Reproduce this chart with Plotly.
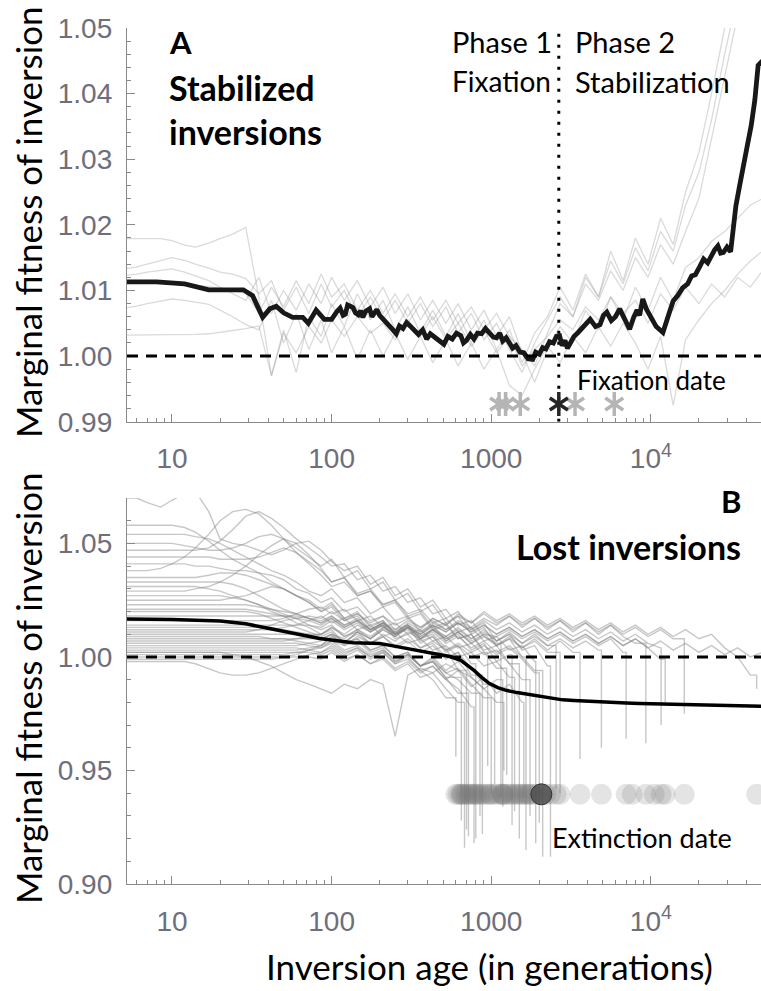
import numpy as np
import plotly.graph_objects as go

# ---------------------------------------------------------------- data
# Generation ages at which the individual simulation runs are sampled
run_ages = [5, 6, 7, 8.5, 10, 12, 14, 17, 20, 24, 29, 35, 42, 50, 60, 72, 86,
            100, 120, 145, 175, 210, 250, 300, 360, 430, 520, 620, 750, 900,
            1080, 1300, 1560, 1870, 2250, 2700, 3250, 3900, 4700, 5600, 6700,
            8000, 9600, 11500, 13800, 16500, 20000, 24000, 29000, 35000, 42000, 50000]

# Panel A - stabilized inversions, fitness excess in per mille (0 = neutral)
stabilized_runs = [
    [17.9, 17.9, 17.9, 17.9, 17.6, 16.9, 16.6, 17.2, 17.9, 18.6, 19.6, 9.0, -3.0, 4.0, -2.5, 6.0, 3.0, 8.0, 4.5, 9.5,
     5.5, 8.5, 4.0, 7.5, 3.5, 7.0, 3.0, 6.5, 2.0, 5.5, 1.0, 4.0, -1.0, 3.5, 6.0, 10.5, 7.0, 12.5, 9.0, 14.5,
     11.0, 16.5, 13.0, 19.0, 16.0, 23.0, 28.0, 36.0, 46.0, 55.0, 60.0, 62.0],
    [13.3, 13.6, 14.0, 14.5, 15.0, 14.6, 14.0, 13.4, 12.8, 12.5, 11.8, 9.5, 11.5, 7.0, 10.5, 6.5, 11.0, 7.5, 10.0, 6.0,
     9.0, 5.5, 8.5, 5.0, 8.0, 4.5, 7.5, 3.5, 6.5, 2.5, 5.0, 1.0, -2.5, 2.0, 5.5, 9.0, 6.0, 11.0, 8.5, 13.0,
     10.0, 15.0, 12.0, 17.0, 14.0, 19.0, 24.0, 33.0, 42.0, 52.0, 58.0, 60.0],
    [12.3, 12.5, 12.8, 13.1, 13.3, 12.8, 12.2, 11.5, 10.5, 9.5, 8.5, 12.0, 6.5, 10.0, 7.0, 11.0, 8.0, 12.0, 8.5, 11.5,
     7.5, 10.5, 6.5, 9.5, 5.5, 8.5, 5.0, 8.0, 4.0, 7.0, 3.0, 6.0, 0.5, -4.0, 1.0, 4.5, 2.0, 7.0, 4.0, 9.0,
     5.5, 10.5, 7.0, 12.0, 8.5, 13.5, 15.0, 17.5, 19.0, 21.0, 23.0, 24.0],
    [7.3, 7.6, 8.0, 8.4, 8.7, 8.5, 8.2, 7.9, 7.0, 6.0, 4.8, 4.0, 8.5, 2.0, 6.5, 1.0, 5.5, 0.5, 4.5, -0.5,
     4.0, 0.0, 3.5, -0.5, 3.0, -1.0, 2.5, -1.5, 2.0, -2.0, 1.0, -4.5, -6.0, -2.0, 1.5, -1.0, 3.0, 0.5, 4.5, 1.5,
     5.0, 2.0, -2.0, 3.0, -7.5, 2.5, 5.5, 8.0, 10.0, 12.5, 14.5, 16.0],
    [3.2, 3.2, 3.2, 3.2, 3.2, 3.2, 3.3, 3.4, 3.6, 3.9, 4.2, 4.6, -3.0, 3.5, 0.5, 4.5, 2.0, 5.5, 3.0, 6.0,
     3.5, 5.0, 2.5, 5.5, 3.0, 6.0, 2.5, 5.0, 1.5, 4.0, 0.5, 3.0, -1.5, 1.0, 3.0, 5.5, 4.0, 7.5, 5.5, 9.0,
     6.5, 8.5, 5.0, 9.5, 7.0, 10.5, 8.0, 11.0, 9.0, 12.0, 10.5, 13.0],
    [11.5, 11.5, 11.4, 11.3, 11.2, 11.0, 10.8, 10.6, 10.3, 10.0, 9.6, 6.5, 10.5, 7.5, 11.5, 8.0, 12.5, 9.0, 11.0, 7.0,
     10.0, 6.5, 9.5, 6.0, 9.0, 5.5, 8.5, 5.0, 7.5, 4.0, 6.5, 3.0, 1.0, -1.5, 3.5, 8.0, 6.0, 12.0, 9.0, 16.0,
     11.5, 18.0, 14.0, 21.0, 17.0, 25.0, 31.0, 40.0, 50.0, 58.0, 62.0, 64.0],
]

mean_stab_age = [5, 8, 12, 17, 28, 32, 37, 41, 45, 50, 57, 66, 71.5, 80, 90,
                 100, 108, 113, 118, 122, 126, 130, 136, 141, 147, 152, 157, 163, 173, 179, 185, 192, 200,
                 212, 225, 240, 254, 266, 280, 295, 310, 330, 350, 372, 394, 415, 440, 470, 505, 535, 570,
                 605, 645, 670, 700, 740, 780, 820, 870, 920, 975, 1030, 1080, 1130, 1180, 1240, 1300,
                 1360, 1430, 1510, 1600, 1700, 1820, 1900, 2000, 2100, 2200, 2320, 2450, 2560, 2680,
                 2780, 2900, 3000, 3100, 3300, 3500, 3800, 4170, 4500, 4800, 5050, 5300, 5650, 6000,
                 6380, 6800, 7360, 7800, 8200, 8500, 8900, 9400, 10000, 10800, 11900, 12400, 13000,
                 13800, 14700, 15800, 17000, 18000, 19000, 20200, 21400, 22700, 24000, 25100, 26300,
                 27400, 28500, 30000, 31600, 32800, 34100, 36000, 38300, 40300, 42500, 44800, 47000, 50000]
mean_stab_permille = [11.3, 11.3, 11.0, 10.1, 10.1, 9.2, 5.9, 7.2, 7.6, 6.6, 5.9, 5.9, 5.0, 7.0, 5.6,
                      5.6, 6.8, 7.3, 6.2, 6.4, 7.8, 7.6, 7.4, 6.6, 6.3, 6.9, 5.9, 6.8, 7.2, 6.0, 6.5, 7.1, 6.2,
                      5.6, 5.0, 4.1, 3.4, 4.6, 4.2, 5.1, 4.6, 3.9, 3.3, 4.0, 2.6, 3.4, 2.9, 2.2, 1.8, 3.0, 2.6,
                      3.5, 3.1, 2.0, 2.4, 3.3, 2.6, 3.5, 3.4, 4.2, 3.6, 2.9, 2.8, 3.5, 2.3, 2.8, 2.0,
                      1.2, 1.6, 0.6, 0.5, -0.4, -0.5, 0.6, 0.3, 1.3, 1.1, 2.2, 2.0, 3.0, 3.1,
                      1.6, 2.4, 1.2, 1.8, 3.0, 3.6, 4.6, 5.6, 4.5, 4.8, 6.2, 6.7, 5.4, 6.0,
                      7.2, 5.8, 4.1, 5.9, 7.0, 6.2, 8.7, 7.1, 6.0, 4.5, 3.6, 5.2, 6.5,
                      8.4, 9.2, 10.4, 11.0, 12.2, 12.4, 13.6, 14.8, 14.2, 15.5, 16.2, 16.8,
                      15.7, 15.8, 16.6, 15.9, 19.5, 22.9, 26.0, 30.0, 32.2, 35.1, 39.0, 44.3, 45.0]

fixation_dates = [1120, 1230, 1520, 3350, 5900]
mean_fixation_date = 2650
fixation_marker_fitness = 0.9927

# Panel B - lost inversions, fitness excess in per mille (0 = neutral)
lost_runs = [
    [58, 58, 58, 58, 58, 57, 55, 51, 47, 43, 40, 37, 33, 30, 27, 25, 21, 24, 17, 20, 13, 16, 10, 13, 6, 9, 2, 5, -3],
    [54, 54, 54, 54, 54, 54, 53, 52, 50, 47, 44, 41, 38, 36, 33, 29, 27, 30, 24, 26, 19, 22, 16, 18, 11, 14, 7, 10, 3, 6, -2, 1],
    [50, 50, 50, 50, 50, 49, 48, 47, 47, 48, 50, 53, 54, 52, 48, 44, 40, 43, 35, 38, 30, 33, 25, 28, 20, 23, 15, 18, 10, 13, 5, 8, 0],
    [47, 47, 47, 47, 47, 47, 47, 48, 51, 56, 62, 64, 61, 57, 52, 48, 44, 40, 41, 34, 36, 29, 31, 24, 26, 19, 21, 14, 16, 9, 6],
    [70, 70, 68, 66, 69, 72, 73, 64, 52, 50, 49, 47, 45, 47, 50, 51, 47, 42, 38, 40, 32, 35, 27, 30, 22, 25, 17, 20, 12, 15, 7, 10, 3, 5, -4],
    [44, 44, 44, 44, 44, 44, 44, 44, 43, 43, 43, 44, 46, 48, 46, 42, 38, 33, 35, 28, 30, 23, 25, 18, 20, 13, 15, 8, 10, 2],
    [41, 41, 41, 41, 41, 41, 40, 40, 39, 38, 38, 37, 36, 34, 30, 28, 24, 26, 20, 22, 16, 18, 12, 14, 8, 10, 4, -6],
    [38, 38, 38, 39, 41, 44, 48, 54, 60, 64, 65, 63, 58, 52, 46, 41, 36, 31, 33, 27, 29, 23, 25, 19, 21, 15, 17, 11, 13, 7, 9, 3, 5, -2],
    [35, 35, 35, 35, 35, 35, 35, 36, 37, 37, 36, 34, 32, 30, 27, 24, 20, 23, 17, 19, 14, 16, 10, 12, 7, 9, 3, 5, 0, 2, -5],
    [33, 33, 33, 33, 33, 33, 33, 33, 33, 32, 30, 27, 24, 21, 19, 17, 15, 18, 14, 17, 12, 15, 11, 14, 9, 12, 8, 11, 6, 9, 5, 8, 4, 7, 2],
    [31, 31, 31, 31, 31, 31, 31, 30, 29, 27, 25, 23, 20, 18, 15, 13, 10, 12, 6, 8, 3, 5, 0, 2, -4, -2, -9],
    [29, 29, 29, 29, 29, 29, 30, 31, 33, 36, 40, 45, 49, 52, 50, 45, 39, 33, 35, 27, 29, 22, 24, 17, 19, 12, 14, 8, 10, 3, 5, -3],
    [27, 27, 27, 27, 27, 27, 27, 27, 27, 26, 25, 23, 21, 20, 19, 17, 15, 17, 13, 16, 11, 14, 9, 13, 8, 12, 7, 11, 6, 10, 5, 9, 4, 8, 3, 7, 2],
    [25, 25, 25, 25, 25, 25, 25, 25, 25, 26, 27, 29, 31, 30, 27, 24, 20, 22, 16, 18, 12, 14, 8, 10, 4, 6, 0, 2, -8],
    [23, 23, 23, 23, 23, 23, 23, 23, 23, 23, 23, 22, 21, 19, 17, 14, 12, 14, 9, 11, 6, 9, 4, 7, 2, 5, -1, 2, -5, -12],
    [21, 21, 21, 21, 21, 21, 21, 21, 21, 21, 21, 20, 19, 18, 17, 16, 14, 17, 13, 16, 12, 15, 11, 14, 10, 13, 9, 12, 8, 11, 7, 10, 6, 9, 5, 8, 4, 7, 3],
    [20, 20, 20, 20, 20, 20, 20, 20, 20, 20, 20, 19, 17, 15, 13, 11, 9, 11, 6, 8, 3, 5, 0, 2, -4, -2, -9, -16],
    [18, 18, 18, 18, 18, 18, 18, 18, 18, 18, 18, 18, 18, 18, 18, 17, 16, 18, 14, 16, 12, 15, 10, 13, 8, 11, 6, 9, 4, 7, 2, 5, 0, -6],
    [16, 16, 16, 16, 16, 16, 16, 16, 16, 16, 16, 16, 16, 17, 19, 21, 22, 19, 21, 16, 18, 13, 15, 10, 12, 7, 9, 4, 6, 1, 3, -3, -10],
    [14, 14, 14, 14, 14, 14, 14, 14, 14, 14, 14, 14, 14, 14, 14, 14, 13, 16, 12, 15, 11, 14, 10, 13, 9, 12, 8, 11, 7, 10, 9, 12, 8, 11, 7, 10, 6, 9, 5, 8, 2],
    [13, 13, 13, 13, 13, 13, 13, 13, 13, 13, 13, 13, 13, 12, 11, 10, 8, 10, 5, 7, 2, 4, -2, 0, -6, -10, -18],
    [12, 12, 12, 12, 12, 12, 12, 12, 12, 12, 12, 12, 12, 13, 14, 16, 18, 15, 17, 12, 14, 9, 11, 6, 8, 3, 5, 0, 2, -4, -2, -9],
    [10, 10, 10, 10, 10, 10, 10, 10, 10, 10, 10, 10, 10, 10, 10, 10, 10, 13, 9, 12, 8, 12, 9, 13, 10, 14, 11, 15, 12, 16, 12, 15, 11, 14, 10, 13, 9, 12, 8, 11, 7, 10, 6, 4],
    [9, 9, 9, 9, 9, 9, 9, 9, 9, 9, 9, 9, 8, 8, 7, 6, 5, 7, 3, 5, 1, 3, -1, 1, -4, -2, -7, -5, -12, -18],
    [8, 8, 8, 8, 8, 8, 8, 8, 8, 8, 8, 8, 8, 8, 8, 8, 8, 10, 7, 10, 6, 9, 5, 8, 4, 7, 3, 6, 2, 5, 1, 4, -1, -7],
    [7, 7, 7, 7, 7, 7, 7, 7, 7, 7, 7, 7, 7, 7, 8, 9, 10, 13, 10, 14, 11, 15, 12, 16, 13, 17, 14, 18, 15, 19, 15, 18, 14, 17, 13, 16, 12, 15, 11, 14, 10, 13, 9, 12, 8],
    [6, 6, 6, 6, 6, 6, 6, 6, 6, 6, 6, 6, 6, 6, 6, 5, 4, 6, 2, 4, 0, 2, -3, -1, -6, -4, -10, -14, -22],
    [5, 5, 5, 5, 5, 5, 5, 5, 5, 5, 5, 5, 5, 5, 5, 6, 7, 10, 8, 12, 9, 13, 10, 14, 11, 15, 12, 16, 13, 17, 14, 18, 13, 17, 12, 16, 11, 15, 10, 14, 9, 6],
    [4, 4, 4, 4, 4, 4, 4, 4, 4, 4, 4, 4, 4, 4, 4, 3, 2, 4, 0, 3, -1, 2, -3, 1, -4, 0, -6, -2, -9, -14, -20],
    [3, 3, 3, 3, 3, 3, 3, 3, 3, 3, 3, 3, 3, 3, 3, 4, 5, 9, 6, 11, 8, 13, 10, 15, 12, 17, 14, 19, 15, 20, 16, 19, 15, 18, 14, 17, 13, 16, 12, 15, 11, 14, 10, 13, 9, 12, 8, 10, 4, 0, -8],
    [2, 2, 2, 2, 2, 2, 2, 2, 2, 2, 2, 2, 2, 2, 2, 2, 1, 3, -1, 1, -3, -1, -6, -3, -9, -7, -14, -20],
    [1, 1, 1, 1, 1, 1, 1, 1, 1, 1, 1, 1, 1, 1, 2, 3, 4, 7, 5, 9, 6, 10, 7, 11, 8, 12, 9, 13, 8, 12, 7, 11, 6, 10, 5],
    [0, 0, 0, 0, 0, 0, 0, 0, 0, 0, 0, 0, 0, 0, 0, 0, -1, 2, -2, 1, -3, 0, -5, -2, -7, -4, -10, -6, -13, -9, -16, -12, -20],
    [-2, -2, -2, -2, -2, -2, -3, -5, -7, -8, -8, -7, -5, -3, -1, 1, 2, 5, 1, 4, 0, 3, -2, 1, -4, -1, -7, -10, -16],
    [-1, -1, -1, -1, -1, -1, -1, -1, -1, -1, -1, -1, -1, 0, 1, 3, 5, 9, 6, 11, 8, 12, 9, 13, 10, 14, 11, 15, 11, 14, 10, 13, 9, 12, 8, 11, 7, 10, 6, 9, 5, 8, 4, -1],
    [11, 11, 11, 11, 11, 11, 11, 11, 11, 11, 11, 12, 14, 16, 17, 18, 17, 20, 16, 19, 15, 18, 14, 17, 13, 16, 12, 15, 11, 14, 10, 13, 9, 12, 8, 11, 7, 10, 6, 9, 5, 8, 4, 7, 3, 6, 2, 5, 1, 4, 0, 2],
    [2, 2, 2, 2, 2, 2, 2, 2, 2, 1, 0, -2, -4, -7, -10, -12, -14, -16, -12, -14, -10, -12, -35, -8, -5, -7, -3, -6, -9, -14, -10],
]
# Age at which each run was lost (None: still present at the end) and its last value
lost_extinction_age = [800, 1350, 1650, 1150, 2350, 950, 700, 1900, 1250, 2700, 650, 1500, 3600, 880, 1050,
                       4900, 720, 2100, 1750, 7000, 600, 1400, 11600, 1000, 2000, 16200, 780, 9300, 1200,
                       46000, 680, 2550, 1600, 850, 12300, None, 1180]
lost_extinction_drop = [-80, -74, -85, -62, -88, -48, -76, -82, -52, -60, -72, -80, -45, -78, -56,
                        -40, -79, -88, -70, -36, -44, -68, -30, -60, -73, -25, -82, -38, -50,
                        -14, -84, -58, -62, -70, -20, None, -66]
extra_extinction_dates = [620, 640, 660, 740, 760, 820, 900, 980, 1100, 1180, 1300, 1450, 1550, 1700,
                          1800, 2200, 7650, 10500]
mean_extinction_date = 2060
extinction_marker_fitness = 0.9395

mean_lost_age = [5, 10, 20, 29, 40, 57, 84, 136, 200, 233, 300, 358, 454, 550, 645, 710, 780, 870, 975,
                 1100, 1240, 1450, 1660, 2000, 2420, 2800, 3300, 3900, 4500, 5000, 6000, 7000, 8500,
                 10000, 12000, 14600, 18000, 22000, 27000, 33000, 40000, 50000]
mean_lost_permille = [16.7, 16.5, 15.8, 14.6, 12.6, 10.3, 8.1, 6.3, 5.9, 5.1, 3.6, 2.6, 1.5, 0.2, -1.5, -3.5,
                      -5.9, -9.0, -11.7, -13.5, -14.7, -15.7, -16.4, -17.5, -18.4, -18.9, -19.2, -19.5,
                      -19.7, -19.8, -20.1, -20.3, -20.5, -20.6, -20.8, -20.9, -21.1, -21.2, -21.4, -21.5,
                      -21.6, -21.7]

x_tick_vals = [10, 100, 1000, 10000]
x_tick_text = ["10", "100", "1000", "10<sup>4</sup>"]
y_ticks_a = [0.99, 1.00, 1.01, 1.02, 1.03, 1.04, 1.05]
y_ticks_b = [0.90, 0.95, 1.00, 1.05]
y_range_a = [0.99, 1.05]
y_range_b = [0.90, 1.07]
neutral_fitness = 1.0


def to_fitness(permille):
    return [1 + v / 1000 for v in permille]


# ---------------------------------------------------------------- layout helpers
W, H = 761, 991
ML, MR, MT, MB = 127, 0, 28, 107
A_BOTTOM_PX, B_TOP_PX = 421.7, 498


def px(xp):
    return (xp - ML) / (W - ML - MR)


def py(yp):
    return (H - MB - yp) / (H - MT - MB)


AXIS_GREY = "#8a8a8a"
TICK_FONT = dict(family="Liberation Sans", size=28, color="#6e6e7c")
RUN_A = "rgba(150,150,150,0.35)"
RUN_B = "rgba(130,130,130,0.45)"

fig = go.Figure()

# ---------------------------------------------------------------- panel A
for run in stabilized_runs:
    fig.add_trace(go.Scatter(x=run_ages[:len(run)], y=to_fitness(run), mode="lines",
                             line=dict(color=RUN_A, width=1.3), xaxis="x", yaxis="y",
                             hoverinfo="skip", showlegend=False))

fig.add_trace(go.Scatter(x=[mean_fixation_date, mean_fixation_date], y=y_range_a, mode="lines",
                         line=dict(color="black", width=3, dash="3px,8px"), xaxis="x", yaxis="y",
                         hoverinfo="skip", showlegend=False))

fig.add_trace(go.Scatter(x=mean_stab_age, y=to_fitness(mean_stab_permille), mode="lines",
                         line=dict(color="#181818", width=4.8), xaxis="x", yaxis="y",
                         hoverinfo="skip", showlegend=False))

# fixation dates: six-armed asterisks built from two open "y" markers
for dates, colour in ((fixation_dates, "#b5b5b5"), ([mean_fixation_date], "#262626")):
    for symbol in ("y-up-open", "y-down-open"):
        fig.add_trace(go.Scatter(x=dates, y=[fixation_marker_fitness] * len(dates), mode="markers",
                                 marker=dict(symbol=symbol, size=15, color=colour,
                                             line=dict(width=3.5, color=colour)),
                                 xaxis="x", yaxis="y", hoverinfo="skip", showlegend=False))

# ---------------------------------------------------------------- panel B
for run, ext, drop in zip(lost_runs, lost_extinction_age, lost_extinction_drop):
    xs = run_ages[:len(run)]
    ys = to_fitness(run)
    if ext is not None:
        xs = xs + [ext, ext]
        ys = ys + [ys[-1], 1 + drop / 1000]
    fig.add_trace(go.Scatter(x=xs, y=ys, mode="lines", line=dict(color=RUN_B, width=1.4),
                             xaxis="x2", yaxis="y2", hoverinfo="skip", showlegend=False))

extinction_dates = [e for e in lost_extinction_age if e is not None] + extra_extinction_dates
fig.add_trace(go.Scatter(x=extinction_dates, y=[extinction_marker_fitness] * len(extinction_dates),
                         mode="markers", marker=dict(size=21, color="rgba(120,120,120,0.2)", line=dict(width=0)),
                         xaxis="x2", yaxis="y2", hoverinfo="skip", showlegend=False))
fig.add_trace(go.Scatter(x=[mean_extinction_date], y=[extinction_marker_fitness], mode="markers",
                         marker=dict(size=21, color="rgba(70,70,70,0.75)", line=dict(width=1, color="#333")),
                         xaxis="x2", yaxis="y2", hoverinfo="skip", showlegend=False))

fig.add_trace(go.Scatter(x=mean_lost_age, y=to_fitness(mean_lost_permille), mode="lines",
                         line=dict(color="black", width=3.5), xaxis="x2", yaxis="y2",
                         hoverinfo="skip", showlegend=False))

# neutral reference lines
for xr, yr in (("x domain", "y"), ("x2 domain", "y2")):
    fig.add_shape(type="line", xref=xr, yref=yr, x0=0, x1=1, y0=neutral_fitness, y1=neutral_fitness,
                  line=dict(color="black", width=3, dash="11px,8px"), layer="above")

# ---------------------------------------------------------------- axes
minor_x = [m * 10 ** k for k in range(0, 5) for m in range(2, 10) if 5.3 < m * 10 ** k < 48000]
x_common = dict(type="log", range=[0.7182, 4.69], showline=True, linecolor=AXIS_GREY, linewidth=1.3,
                ticks="inside", ticklen=8, tickwidth=1.2, tickcolor=AXIS_GREY,
                tickmode="array", tickvals=x_tick_vals, ticktext=x_tick_text, tickfont=TICK_FONT,
                ticklabelstandoff=12, showgrid=False, zeroline=False,
                minor=dict(tickmode="array", tickvals=minor_x, ticks="inside", ticklen=4,
                           tickcolor=AXIS_GREY, tickwidth=1, showgrid=False))
y_common = dict(showline=True, linecolor=AXIS_GREY, linewidth=1.3, ticks="inside", ticklen=8,
                tickwidth=1.2, tickcolor=AXIS_GREY, tickfont=TICK_FONT, ticklabelstandoff=8,
                showgrid=False, zeroline=False)

fig.update_layout(
    width=W, height=H, margin=dict(l=ML, r=MR, t=MT, b=MB),
    paper_bgcolor="white", plot_bgcolor="white", showlegend=False,
    xaxis=dict(x_common, domain=[0, 1], anchor="y"),
    yaxis=dict(y_common, domain=[py(A_BOTTOM_PX), 1], range=y_range_a, tickmode="array",
               tickvals=y_ticks_a, ticktext=[f"{v:.2f}" for v in y_ticks_a], anchor="x",
               minor=dict(dtick=0.002, ticks="inside", ticklen=4, tickcolor=AXIS_GREY, tickwidth=1,
                          showgrid=False)),
    xaxis2=dict(x_common, domain=[0, 1], anchor="y2"),
    yaxis2=dict(y_common, domain=[0, py(B_TOP_PX)], range=y_range_b, tickmode="array",
                tickvals=y_ticks_b, ticktext=[f"{v:.2f}" for v in y_ticks_b], anchor="x2",
                minor=dict(dtick=0.01, ticks="inside", ticklen=4, tickcolor=AXIS_GREY, tickwidth=1,
                           showgrid=False)),
)

# ---------------------------------------------------------------- text
LABEL = "Lato"


def note(text, xp, yp, size, xanchor="left", bold=False, angle=0, color="black"):
    fig.add_annotation(text=f"<b>{text}</b>" if bold else text, xref="paper", yref="paper",
                       x=px(xp), y=py(yp), xanchor=xanchor, yanchor="middle", showarrow=False,
                       textangle=angle, font=dict(family=LABEL, size=size, color=color))


note("A", 167, 42, 31, bold=True)
note("Stabilized", 167, 87, 34, bold=True)
note("inversions", 167, 131, 34, bold=True)
note("Phase 1", 450, 42, 29)
note("Fixation", 450, 81, 28)
note("Phase 2", 573, 42, 29)
note("Stabilization", 573, 81, 29)
note("Fixation date", 575, 380, 26)
note("B", 743, 501, 31, xanchor="right", bold=True)
note("Lost inversions", 743, 546, 34, xanchor="right", bold=True)
note("Extinction date", 550, 837, 27)
note("Marginal fitness of inversion", 28, 222, 35, xanchor="center", angle=-90)
note("Marginal fitness of inversion", 28, 688, 35, xanchor="center", angle=-90)
note("Inversion age (in generations)", 489, 966, 35, xanchor="center")

fig.write_html("out.html")
